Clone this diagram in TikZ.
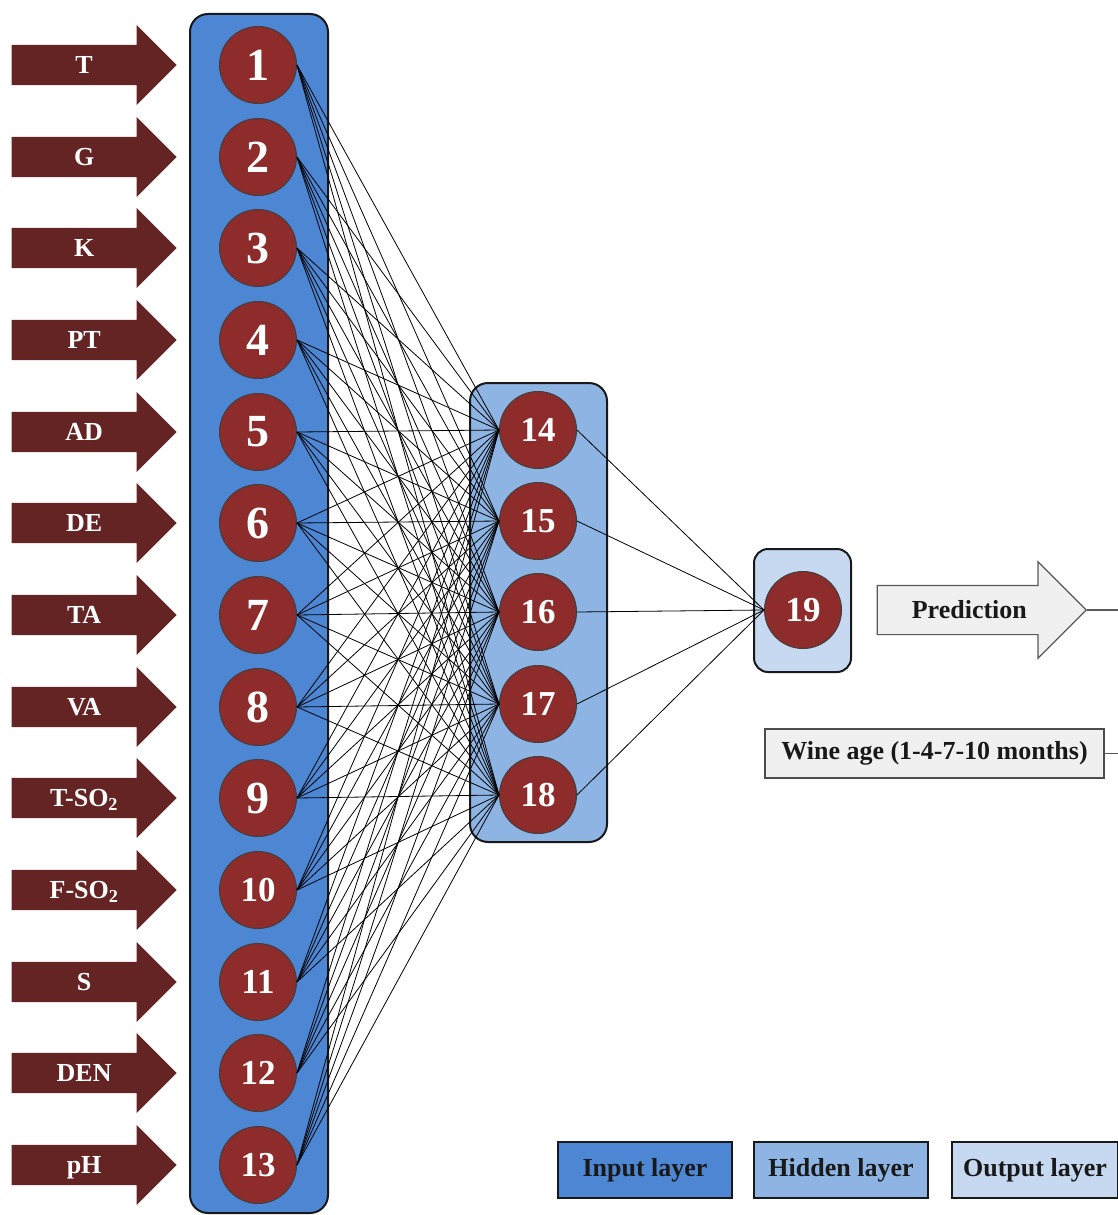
\documentclass[tikz,border=0pt]{standalone}
\usepackage{fontspec}
\setmainfont{Liberation Serif}
\usetikzlibrary{shapes.arrows}

\definecolor{wine}{HTML}{642424}
\definecolor{cell}{HTML}{8E2B2B}
\definecolor{inblue}{HTML}{4D87D3}
\definecolor{hidblue}{HTML}{8DB4E3}
\definecolor{outblue}{HTML}{C6D9F1}
\definecolor{pale}{HTML}{F0F0F0}

\tikzset{
    feed/.style={single arrow, fill=wine, text=white, anchor=tip,
        minimum width=80pt, minimum height=165pt, single arrow head extend=20pt,
        inner xsep=0pt, inner ysep=0pt, text height=28.5pt, text depth=11.5pt,
        font=\fontsize{26}{30}\selectfont\bfseries},
    neuron/.style={circle, fill=cell, draw=black!75, line width=1pt, inner sep=0pt,
        minimum size=77pt, text=white, font=\fontsize{46}{50}\selectfont\bfseries},
    neuron2/.style={neuron, font=\fontsize{35}{40}\selectfont\bfseries},
    layer/.style={draw=black!90, line width=2pt, rounded corners=18pt},
    link/.style={line width=0.8pt, black},
    greybox/.style={draw=black!70, fill=pale, line width=1.5pt,
        font=\fontsize{26}{30}\selectfont\bfseries, text=black!90},
    key/.style={draw=black!90, line width=2pt, minimum width=174pt, minimum height=56pt,
        inner sep=0pt, font=\fontsize{26}{30}\selectfont\bfseries, text=black!90}
}

\begin{document}
\begin{tikzpicture}[x=1pt,y=-1pt]
    \useasboundingbox (0,0) rectangle (1118,1215);

    % layer boxes
    \draw[layer, fill=inblue] (190,14) rectangle (328,1213);
    \draw[layer, fill=hidblue] (470,383) rectangle (607,842);
    \draw[layer, fill=outblue, rounded corners=14pt] (754,549) rectangle (851,672);

    % input arrows
    \node(aT) at (177,65) [feed] {T};
    \node(aG) at (177,157) [feed] {G};
    \node(aK) at (177,248) [feed] {K};
    \node(aPT) at (177,340) [feed] {PT};
    \node(aAD) at (177,432) [feed] {AD};
    \node(aDE) at (177,523) [feed] {DE};
    \node(aTA) at (177,615) [feed] {TA};
    \node(aVA) at (177,707) [feed] {VA};
    \node(aTSO) at (177,798) [feed] {T-SO\textsubscript{2}};
    \node(aFSO) at (177,890) [feed] {F-SO\textsubscript{2}};
    \node(aS) at (177,982) [feed] {S};
    \node(aDEN) at (177,1073) [feed] {DEN};
    \node(apH) at (177,1165) [feed] {pH};

    % input layer
    \node(n1) at (258,65) [neuron] {1};
    \node(n2) at (258,157) [neuron] {2};
    \node(n3) at (258,248) [neuron] {3};
    \node(n4) at (258,340) [neuron] {4};
    \node(n5) at (258,432) [neuron] {5};
    \node(n6) at (258,523) [neuron] {6};
    \node(n7) at (258,615) [neuron] {7};
    \node(n8) at (258,707) [neuron] {8};
    \node(n9) at (258,798) [neuron] {9};
    \node(n10) at (258,890) [neuron2] {10};
    \node(n11) at (258,982) [neuron2] {11};
    \node(n12) at (258,1073) [neuron2] {12};
    \node(n13) at (258,1165) [neuron2] {13};

    % hidden layer
    \node(n14) at (538,430) [neuron2] {14};
    \node(n15) at (538,521) [neuron2] {15};
    \node(n16) at (538,612) [neuron2] {16};
    \node(n17) at (538,704) [neuron2] {17};
    \node(n18) at (538,795) [neuron2] {18};

    % output layer
    \node(n19) at (803,610) [neuron2] {19};

    \foreach \i in {1,...,13}
        \foreach \j in {14,...,18}
            \draw[link] (n\i.east) -- (n\j.west);
    \foreach \j in {14,...,18}
        \draw[link] (n\j.east) -- (n19.west);

    % prediction
    \node(pred) at (1087,610) [single arrow, anchor=tip, draw=black!65, fill=pale, line width=1.2pt,
        minimum width=95pt, minimum height=209pt, single arrow head extend=23.5pt,
        inner xsep=0pt, inner ysep=0pt, text height=32.5pt, text depth=15.5pt,
        font=\fontsize{26}{30}\selectfont\bfseries, text=black!90] {Prediction};
    \node(age) at (934.5,753.5) [greybox, minimum width=339pt, minimum height=49pt, inner sep=0pt]
        {Wine age (1-4-7-10 months)};
    \coordinate(edgeA) at (1118,610);
    \coordinate(edgeB) at (1118,753.5);
    \draw[black!65, line width=1.2pt] (pred.tip) -- (edgeA);
    \draw[black!65, line width=1.2pt] (age.east) -- (edgeB);

    % legend
    \node(kIn) at (645,1170) [key, fill=inblue] {Input layer};
    \node(kHid) at (841,1170) [key, fill=hidblue] {Hidden layer};
    \node(kOut) at (1035,1170) [key, fill=outblue, minimum width=166pt] {Output layer};
\end{tikzpicture}
\end{document}
